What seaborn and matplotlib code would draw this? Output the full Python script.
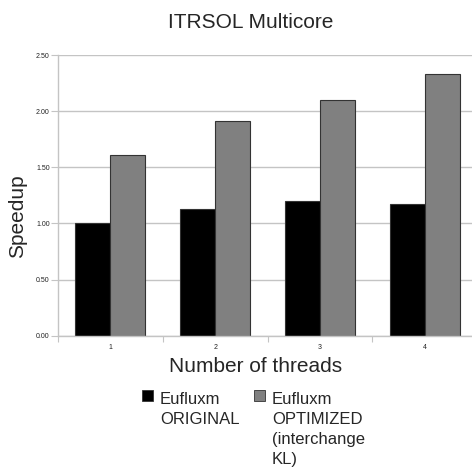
import numpy as np
import pandas as pd
import matplotlib
matplotlib.use('Agg')
import matplotlib.pyplot as plt
from matplotlib.patches import Rectangle
import seaborn as sns

# 数据
threads = ['1', '2', '3', '4']
series_names = ['Eufluxm\nORIGINAL', 'Eufluxm\nOPTIMIZED\n(interchange\nKL)']
series_colors = ['#000000', '#808080']
speedup_original = [1.00, 1.13, 1.20, 1.17]
speedup_optimized = [1.61, 1.91, 2.10, 2.33]
y_ticks = [0.0, 0.5, 1.0, 1.5, 2.0, 2.5]

df = pd.DataFrame({
    'threads': threads * 2,
    'series': [series_names[0]] * 4 + [series_names[1]] * 4,
    'speedup': speedup_original + speedup_optimized,
})

sns.set_style("white")
plt.rcParams['font.family'] = ['Liberation Sans', 'DejaVu Sans']

W = 472
fig = plt.figure(figsize=(4.72, 4.72), dpi=100)
ax = fig.add_axes([58 / W, 136.3 / W, 419 / W, 280.7 / W])

grid_col = '#c4c4c4'
ax.set_axisbelow(True)
ax.yaxis.grid(True, color=grid_col, linewidth=1.0)

sns.barplot(data=df, x='threads', y='speedup', hue='series', order=threads,
            hue_order=series_names, palette=series_colors,
            width=0.67, edgecolor='#333333', linewidth=0.8, ax=ax, legend=False)

ax.set_xlim(-0.5, len(threads) - 0.5)
ax.set_ylim(0, 2.5)
ax.set_yticks(y_ticks)
ax.set_yticklabels([f'{v:.2f}' for v in y_ticks])
ax.set_xlabel('')
ax.set_ylabel('')

# x 轴: 标签在类别中心, 刻度线在类别边界
ax.set_xticks(range(len(threads)))
ax.set_xticklabels(threads)
ax.set_xticks(np.arange(len(threads) + 1) - 0.5, minor=True)
ax.tick_params(axis='x', which='major', length=0, labelsize=5, pad=6, colors='#222222')
ax.tick_params(axis='x', which='minor', length=4, width=0.8, color=grid_col, bottom=True)
ax.tick_params(axis='y', length=5, width=0.8, color=grid_col, labelsize=5, pad=1,
               labelcolor='#222222', left=True)

for s in ['top', 'right']:
    ax.spines[s].set_visible(False)
for s in ['left', 'bottom']:
    ax.spines[s].set_color(grid_col)
    ax.spines[s].set_linewidth(1.0)

fig.text(251 / W, 1 - 28 / W, 'ITRSOL Multicore', fontsize=15, ha='center', va='baseline')
fig.text(255.5 / W, 1 - 371.5 / W, 'Number of threads', fontsize=15, ha='center', va='baseline')
fig.text(17.5 / W, 1 - 216 / W, 'Speedup', fontsize=15, rotation=90, ha='center', va='center')

# 图例 (方块与第一行文字顶部对齐)
legend_x = [142, 254]
for name, col, x0 in zip(series_names, series_colors, legend_x):
    fig.patches.append(Rectangle((x0 / W, 1 - 400.5 / W), 10.5 / W, 10.5 / W,
                                 transform=fig.transFigure, facecolor=col,
                                 edgecolor='#333333', linewidth=0.6))
    fig.text((x0 + 18) / W, 1 - 391.5 / W, name, fontsize=12, ha='left', va='top',
             linespacing=1.42)

fig.savefig('out.png', dpi=100)
